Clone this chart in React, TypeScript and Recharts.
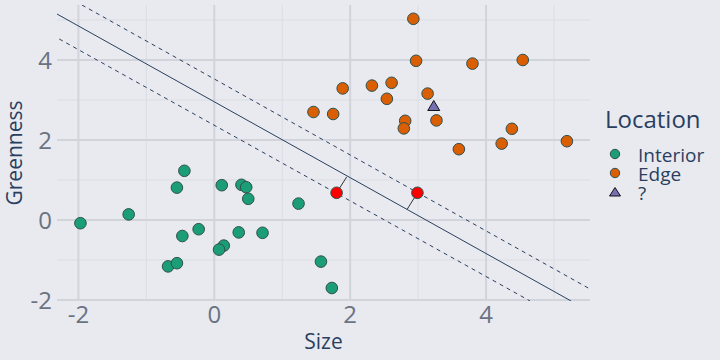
import { ScatterChart, Scatter, XAxis, YAxis, ReferenceLine, Legend } from "recharts";

// Interior (green) observations [size, greenness]
const interior = [
  [-1.97, -0.08], [-1.26, 0.14], [-0.44, 1.23], [-0.55, 0.81], [0.11, 0.87],
  [0.4, 0.88], [0.47, 0.82], [0.5, 0.53], [1.24, 0.41], [-0.23, -0.23],
  [-0.47, -0.4], [0.36, -0.31], [0.71, -0.32], [0.14, -0.64], [0.07, -0.74],
  [-0.68, -1.16], [-0.55, -1.08], [1.57, -1.04], [1.73, -1.7],
];

// Edge (orange) observations
const edge = [
  [1.89, 3.29], [1.46, 2.7], [1.75, 2.65], [2.93, 5.03], [2.97, 3.98],
  [3.8, 3.91], [4.54, 4.0], [2.32, 3.36], [2.61, 3.43], [2.54, 3.03],
  [3.14, 3.16], [2.81, 2.48], [2.79, 2.29], [3.27, 2.49], [4.38, 2.28],
  [4.23, 1.91], [3.6, 1.77], [5.19, 1.97],
];

// unknown point
const unknown = [[3.23, 2.85]];

// highlighted points (red) and the foot of each on the boundary
const highlighted = [[1.8, 0.68], [2.99, 0.68]];
const highlightFeet = [[1.95, 1.08], [2.84, 0.27]];

// boundary + margins, endpoints read at the plot edges
const boundary = [[-2.315, 5.15], [5.252, -2.025]];
const marginUpper = [[-1.948, 5.375], [5.53, -1.725]];
const marginLower = [[-2.282, 4.525], [4.648, -2.025]];

const majorTicks = [-2, 0, 2, 4];
const minorTicks = [-1, 1, 3, 5];

const legendItems = [
  { label: "Interior", color: "#1b9e77", shape: "circle" },
  { label: "Edge", color: "#d95f02", shape: "circle" },
  { label: "?", color: "#7570b3", shape: "triangle" },
];

const toPts = (arr: number[][]) => arr.map(([x, y]) => ({ x, y }));

const FONT = "'Open Sans', 'Noto Sans', sans-serif";
const TITLE = "#2a3f5f";
const TICK = "#6b7282";
const MARKER_LINE = "#2f4f4f";

const Dot = (color: string) => (props: any) => (
  <circle cx={props.cx} cy={props.cy} r={5.8} fill={color} stroke={MARKER_LINE} strokeWidth={1} />
);

const Tri = (props: any) => {
  const { cx, cy } = props;
  return (
    <path
      d={`M${cx},${cy - 5.5} L${cx + 6},${cy + 4.5} L${cx - 6},${cy + 4.5} Z`}
      fill="#7570b3"
      stroke="#111"
      strokeWidth={1}
    />
  );
};

const renderLegend = () => (
  <svg width={120} height={115} style={{ fontFamily: FONT }}>
    <text x={5} y={33} fontSize={24} fill={TITLE}>
      Location
    </text>
    {legendItems.map((it, i) => {
      const cy = 59 + i * 19;
      return (
        <g key={it.label}>
          {it.shape === "circle" ? (
            <circle cx={15} cy={cy} r={4.7} fill={it.color} stroke={MARKER_LINE} strokeWidth={1} />
          ) : (
            <path d={`M15,${cy - 4.5} L20.5,${cy + 4} L9.5,${cy + 4} Z`} fill={it.color} stroke="#111" strokeWidth={1} />
          )}
          <text x={38} y={cy + 8} fontSize={19} fill={TITLE}>
            {it.label}
          </text>
        </g>
      );
    })}
  </svg>
);

export default function App() {
  return (
    <div
      style={{
        position: "absolute",
        left: 0,
        top: 0,
        width: 720,
        height: 360,
        background: "#e8eaef",
        fontFamily: FONT,
      }}
    >
      <ScatterChart width={720} height={360} margin={{ top: 5, right: 130, bottom: 0, left: 0 }}>
        <XAxis
          type="number"
          dataKey="x"
          domain={[-2.315, 5.53]}
          ticks={majorTicks}
          allowDataOverflow
          axisLine={false}
          tickLine={false}
          tickSize={3}
          height={59}
          tick={{ fontSize: 24, fill: TICK, fontFamily: FONT }}
          label={{ value: "Size", position: "insideBottom", offset: 11, fontSize: 21, fill: TITLE, fontFamily: FONT }}
        />
        <YAxis
          type="number"
          dataKey="y"
          domain={[-2.025, 5.375]}
          ticks={majorTicks}
          allowDataOverflow
          axisLine={false}
          tickLine={false}
          tickSize={3}
          width={57}
          tick={{ fontSize: 24, fill: TICK, fontFamily: FONT }}
          label={(p: any) => {
            const vb = p.viewBox;
            const cy = vb.y + vb.height / 2;
            return (
              <text
                x={14}
                y={cy}
                transform={`rotate(-90, 14, ${cy})`}
                textAnchor="middle"
                dominantBaseline="central"
                fontSize={21}
                fill={TITLE}
                fontFamily={FONT}
              >
                Greenness
              </text>
            );
          }}
        />

        {minorTicks.map((v) => (
          <ReferenceLine key={"mx" + v} x={v} stroke="#dadde3" strokeWidth={1} ifOverflow="hidden" />
        ))}
        {minorTicks.map((v) => (
          <ReferenceLine key={"my" + v} y={v} stroke="#dadde3" strokeWidth={1} ifOverflow="hidden" />
        ))}
        {majorTicks.map((v) => (
          <ReferenceLine key={"Mx" + v} x={v} stroke="#d1d4da" strokeWidth={2} ifOverflow="hidden" />
        ))}
        {majorTicks.map((v) => (
          <ReferenceLine key={"My" + v} y={v} stroke="#d1d4da" strokeWidth={2} ifOverflow="hidden" />
        ))}

        <ReferenceLine segment={toPts(boundary)} stroke={TITLE} strokeWidth={1} ifOverflow="hidden" />
        <ReferenceLine segment={toPts(marginUpper)} stroke={TITLE} strokeWidth={1} strokeDasharray="4 4" ifOverflow="hidden" />
        <ReferenceLine segment={toPts(marginLower)} stroke={TITLE} strokeWidth={1} strokeDasharray="4 4" ifOverflow="hidden" />
        {highlighted.map((p, i) => (
          <ReferenceLine
            key={"seg" + i}
            segment={[{ x: p[0], y: p[1] }, { x: highlightFeet[i][0], y: highlightFeet[i][1] }]}
            stroke="#333"
            strokeWidth={1}
          />
        ))}

        <Scatter name="Interior" data={toPts(interior)} shape={Dot("#1b9e77")} isAnimationActive={false} />
        <Scatter name="Edge" data={toPts(edge)} shape={Dot("#d95f02")} isAnimationActive={false} />
        <Scatter name="?" data={toPts(unknown)} shape={Tri} isAnimationActive={false} />
        <Scatter name="highlight" data={toPts(highlighted)} shape={Dot("#ff0000")} isAnimationActive={false} legendType="none" />

        <Legend
          layout="horizontal"
          align="center"
          verticalAlign="middle"
          content={renderLegend}
          wrapperStyle={{ left: 600, top: 95, width: 120, height: 115 }}
        />
      </ScatterChart>
    </div>
  );
}
